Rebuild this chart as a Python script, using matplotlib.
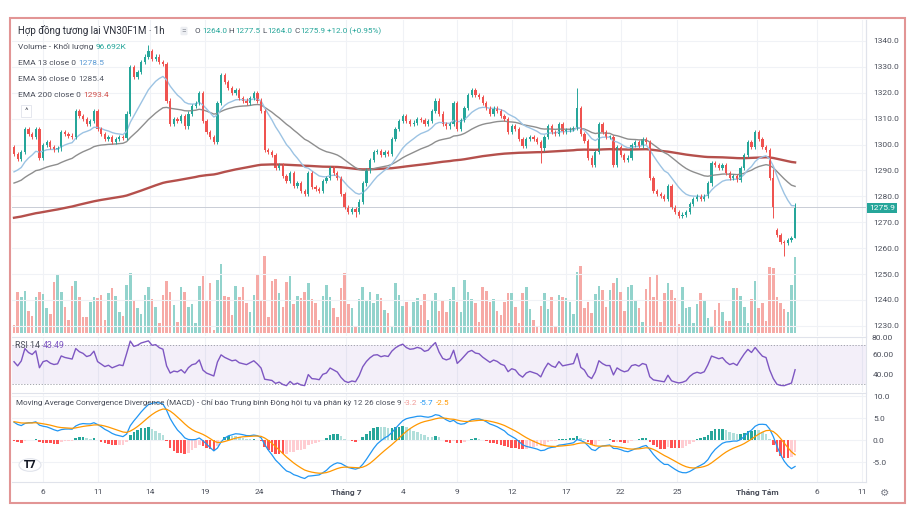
import numpy as np
import matplotlib.pyplot as plt
from matplotlib.patches import Rectangle, Circle

plt.rcParams['font.family'] = ['Roboto', 'DejaVu Sans']

# hourly closes, VN30F1M, early June -> 5 Aug
closes = [
    1296.5, 1294.5, 1297, 1306, 1304, 1303, 1306, 1295, 1300, 1301,
    1299, 1298, 1298.5, 1305, 1304, 1303.5, 1303, 1313, 1311, 1310,
    1308, 1309, 1313, 1306, 1304, 1302, 1303, 1301, 1302, 1303,
    1302.5, 1312, 1330, 1326, 1328, 1332, 1334, 1336, 1333, 1334,
    1332, 1331, 1317, 1308, 1310, 1309, 1311, 1307, 1312, 1315,
    1316, 1320, 1309, 1305, 1303, 1301, 1316, 1327, 1324, 1322,
    1320, 1321, 1318, 1317, 1316, 1318, 1320, 1317, 1313, 1298,
    1297, 1296, 1291, 1292, 1288, 1286, 1289, 1284, 1285, 1282,
    1281, 1289, 1283.5, 1283, 1282, 1286, 1287, 1291, 1289, 1287,
    1281, 1276, 1274, 1275, 1274, 1278, 1285, 1290, 1294, 1297,
    1297.5, 1296, 1297, 1296.5, 1302, 1306, 1309, 1311, 1309, 1308,
    1308.5, 1310, 1309.5, 1308, 1309, 1313, 1317, 1312, 1308, 1307,
    1308, 1316, 1306, 1309.5, 1314, 1319, 1321, 1319, 1318.5, 1316,
    1314, 1312, 1314, 1313, 1311, 1310, 1305, 1307, 1306, 1302,
    1299.5, 1302, 1303, 1302, 1301, 1298.5, 1303, 1307, 1305, 1304,
    1308, 1305, 1305.5, 1306, 1306.5, 1314, 1304, 1301.5, 1295, 1292,
    1297, 1308, 1305, 1303, 1303, 1292, 1299, 1296, 1294, 1295,
    1300, 1301, 1299.5, 1302, 1301, 1287, 1282, 1281, 1280, 1279,
    1284, 1276, 1274, 1272.5, 1273, 1274, 1277, 1279, 1280, 1279,
    1280, 1285, 1293, 1292, 1291, 1292, 1289, 1287, 1288, 1286.5,
    1291, 1296, 1301, 1299, 1305, 1302, 1299, 1298, 1287, 1275.5,
    1265, 1262.5, 1262, 1263, 1264, 1275.9,
]
first_open = 1299.0
gap_opens = {210: 1267.0}
high_marks = {37: 1338.5, 155: 1322.0, 215: 1277.5, 209: 1290.5}
low_marks = {94: 1272.0, 145: 1293.0, 209: 1271.5, 212: 1257.0, 215: 1264.0}

# volume, thousand contracts
volumes = [
    10, 52, 46, 53, 28, 22, 46, 52, 50, 32,
    24, 65, 74, 52, 33, 17, 60, 66, 46, 20,
    20, 39, 46, 44, 48, 17, 51, 57, 47, 27,
    22, 61, 76, 42, 32, 24, 48, 58, 43, 33,
    13, 48, 66, 52, 36, 14, 58, 52, 33, 37,
    13, 60, 72, 42, 64, 4, 67, 88, 47, 46,
    23, 60, 46, 58, 38, 27, 48, 74, 41, 98,
    20, 66, 69, 51, 33, 65, 72, 37, 47, 44,
    52, 64, 43, 38, 17, 47, 61, 46, 32, 20,
    57, 76, 37, 32, 8, 43, 58, 41, 52, 38,
    50, 44, 29, 25, 9, 64, 48, 34, 39, 9,
    39, 44, 36, 50, 17, 41, 51, 28, 42, 27,
    43, 58, 39, 27, 67, 52, 43, 38, 14, 58,
    53, 40, 43, 28, 23, 39, 51, 51, 33, 13,
    51, 58, 30, 17, 8, 34, 51, 30, 46, 9,
    48, 46, 44, 39, 24, 77, 85, 32, 39, 25,
    50, 60, 55, 33, 55, 64, 70, 52, 28, 58,
    61, 42, 32, 14, 56, 71, 46, 75, 14, 51,
    64, 55, 44, 11, 58, 32, 33, 13, 37, 51,
    41, 19, 9, 29, 38, 27, 15, 15, 57, 57,
    47, 33, 13, 43, 66, 32, 38, 15, 84, 83,
    46, 38, 30, 27, 61, 96.692,
]

ema_seeds = {13: 1288.3, 36: 1284.5, 200: 1271.5}
macd_seeds = (1297.5, 1293.0, 4.2)   # ema12, ema26, signal
rsi_seeds = (1.0, 0.7)               # avg gain, avg loss

tick_pos = [8, 23, 37.5, 52.5, 67.5, 91.5, 107, 122, 137, 152, 167, 182.5, 204.5, 221, 233.5]
tick_labels = ['6', '11', '14', '19', '24', 'Tháng 7', '4', '9', '12', '17', '22', '25',
               'Tháng Tám', '6', '11']
price_ticks = np.arange(1230, 1341, 10)

UP, DOWN = '#26a69a', '#ef5350'
GRID = '#f0f2f6'
LINE = '#e0e3eb'
TXT = '#4a4e5a'


def ema(values, n, seed):
    a = 2.0 / (n + 1)
    out, prev = [], seed
    for v in values:
        prev = prev + a * (v - prev)
        out.append(prev)
    return np.array(out)


c = np.array(closes, dtype=float)
o = np.r_[first_open, c[:-1]]
for k, v in gap_opens.items():
    o[k] = v
hi = np.maximum(o, c) + 0.8
lo = np.minimum(o, c) - 0.8
for k, v in high_marks.items():
    hi[k] = v
for k, v in low_marks.items():
    lo[k] = v
x = np.arange(len(c))
up = c >= o

ema13 = ema(c, 13, ema_seeds[13])
ema36 = ema(c, 36, ema_seeds[36])
ema200 = ema(c, 200, ema_seeds[200])

macd = ema(c, 12, macd_seeds[0]) - ema(c, 26, macd_seeds[1])
signal = ema(macd, 9, macd_seeds[2])
hist = macd - signal

ag, al = rsi_seeds
rsi = []
prev = first_open
for v in c:
    d = v - prev
    ag = (ag * 13 + max(d, 0)) / 14
    al = (al * 13 + max(-d, 0)) / 14
    rsi.append(100 - 100 / (1 + ag / al))
    prev = v
rsi = np.array(rsi)

W, H = 912, 524


def fx(px):
    return px / W


def fy(py):
    return 1 - py / H


fig = plt.figure(figsize=(9.12, 5.24), dpi=100)
L, R = 12, 866
xlim = ((L - 14) / 3.633, (R - 14) / 3.633)


def pane(top, bottom):
    ax = fig.add_axes([fx(L), fy(bottom), (R - L) / W, (bottom - top) / H])
    ax.set_xlim(*xlim)
    for s in ['left', 'top', 'bottom']:
        ax.spines[s].set_visible(False)
    ax.spines['right'].set_color(LINE)
    ax.yaxis.tick_right()
    ax.tick_params(axis='y', length=0, labelsize=6, labelcolor=TXT, pad=5)
    ax.tick_params(axis='x', length=0, labelbottom=False)
    ax.set_xticks(tick_pos)
    ax.grid(True, color=GRID, lw=0.8)
    ax.set_axisbelow(True)
    return ax


# volume behind price
ax_v = pane(20, 336)
ax_v.bar(x, volumes, width=0.7, color=np.where(up, '#92d3cc', '#f6aaa6'))
ax_v.set_ylim(-3.8, 398)
ax_v.set_yticks([])
ax_v.grid(False)
for t in tick_pos:
    ax_v.axvline(t, color=GRID, lw=0.8, zorder=0)

ax_p = pane(20, 336)
ax_p.patch.set_alpha(0)
ax_p.grid(axis='x', visible=False)
ax_p.set_ylim(1226.1, 1348.1)
ax_p.set_yticks(price_ticks)
ax_p.set_yticklabels([f'{v:.1f}' for v in price_ticks])
ax_p.axhline(1275.9, color='#c9cdd6', lw=0.7)
ax_p.plot(x, ema200, color='#b5504c', lw=1.7)
ax_p.plot(x, ema36, color='#8e8e8e', lw=1.0)
ax_p.plot(x, ema13, color='#9cc3e3', lw=1.0)
cols = np.where(up, UP, DOWN)
ax_p.vlines(x, lo, hi, color=cols, lw=0.7)
body = np.maximum(np.abs(c - o), 0.2)
ax_p.bar(x, body, bottom=np.minimum(o, c), width=0.62, color=cols)

ax_r = pane(337, 392)
ax_r.set_ylim(21.8, 78.2)
ax_r.set_yticks([60, 40])
ax_r.set_yticklabels(['60.00', '40.00'])
ax_r.grid(axis='y', visible=False)
ax_r.spines['top'].set_visible(True)
ax_r.spines['top'].set_color(LINE)
ax_r.axhspan(30, 70, color='#7e57c2', alpha=0.09, lw=0)
for lvl in (70, 30):
    ax_r.axhline(lvl, color='#9598a1', lw=0.6, ls=(0, (1.5, 2)))
ax_r.plot(x, rsi, color='#7e57c2', lw=1.0)

ax_m = pane(393, 482)
ax_m.set_ylim(-9.5, 10.7)
ax_m.set_yticks([10, 5, 0, -5])
ax_m.set_yticklabels(['10.0', '5.0', '0.0', '-5.0'])
ax_m.spines['top'].set_visible(True)
ax_m.spines['top'].set_color(LINE)
ax_m.spines['bottom'].set_visible(True)
ax_m.spines['bottom'].set_color(LINE)
hcol = []
for i, h in enumerate(hist):
    p = hist[i - 1] if i else h
    if h >= 0:
        hcol.append('#26a69a' if h > p else '#b2dfdb')
    else:
        hcol.append('#ffcdd2' if h > p else '#ff5252')
ax_m.bar(x, hist, width=0.7, color=hcol)
ax_m.plot(x, macd, color='#2196f3', lw=0.9)
ax_m.plot(x, signal, color='#ff9800', lw=0.9)
ax_m.tick_params(axis='x', labelbottom=True, labelsize=6, labelcolor=TXT, pad=5)
ax_m.set_xticklabels(tick_labels)
for lab in ax_m.get_xticklabels():
    if lab.get_text().startswith('Tháng'):
        lab.set_fontweight('bold')

# texts
renderer = fig.canvas.get_renderer()


def text_row(px, py, parts, size, gap=2.5):
    for s, col in parts:
        t = fig.text(fx(px), fy(py), s, color=col, fontsize=size, va='center', ha='left')
        px += t.get_window_extent(renderer).width + gap


text_row(18, 31, [('Hợp đồng tương lai VN30F1M · 1h', '#2a2e39')], 7.0)
fig.text(fx(184), fy(31), '=', fontsize=6, color='#787b86', ha='center', va='center',
         bbox=dict(boxstyle='round,pad=0.15', fc='#eceef2', ec='none'))
text_row(195, 31, [('O', TXT), ('1264.0', UP), ('H', TXT), ('1277.5', UP), ('L', TXT),
                   ('1264.0', UP), ('C', TXT), ('1275.9', UP), ('+12.0 (+0.95%)', UP)], 5.9, gap=1.4)
text_row(18, 47, [('Volume - Khối lượng', TXT), ('96.692K', UP)], 6.0)
text_row(18, 63, [('EMA 13 close 0', TXT), ('1278.5', '#5b9bd5')], 6.0)
text_row(18, 79, [('EMA 36 close 0', TXT), ('1285.4', '#555a66')], 6.0)
text_row(18, 95, [('EMA 200 close 0', TXT), ('1293.4', '#d0504c')], 6.0)
fig.text(fx(26), fy(111), '^', fontsize=6, color=TXT, ha='center', va='center',
         bbox=dict(boxstyle='square,pad=0.35', fc='white', ec='#e0e3eb', lw=0.6))
text_row(15, 346, [('RSI 14', TXT), ('43.49', '#7e57c2')], 6.3)
text_row(16, 403, [('Moving Average Convergence Divergence (MACD) - Chỉ báo Trung bình Động hội tụ và phân kỳ 12 26 close 9', TXT),
                   ('-3.2', '#f19a97'), ('-5.7', '#2196f3'), ('-2.5', '#ff9800')], 5.9)
fig.text(fx(872), fy(338), '80.00', fontsize=6, color=TXT, va='center')

# last price tag
fig.text(fx(869), fy(208), '1275.9', fontsize=6, color='white', va='center',
         bbox=dict(boxstyle='square,pad=0.25', fc=UP, ec='none'))

# logo and gear
fig.patches.append(Circle((fx(30), fy(465)), 11 / W, transform=fig.transFigure,
                          fc='white', ec='#e0e3eb', lw=0.8))
fig.text(fx(30), fy(465), 'T7', fontsize=7.5, fontweight='heavy', color='#131722',
         ha='center', va='center')
fig.text(fx(885), fy(493), '⚙', fontsize=7.5, color='#787b86', ha='center', va='center',
         family='DejaVu Sans')

# outer frame
fig.patches.append(Rectangle((fx(10), fy(503)), 895 / W, 485 / H, transform=fig.transFigure,
                             fill=False, ec='#e29595', lw=1.5))

fig.savefig('out.png', dpi=100)
